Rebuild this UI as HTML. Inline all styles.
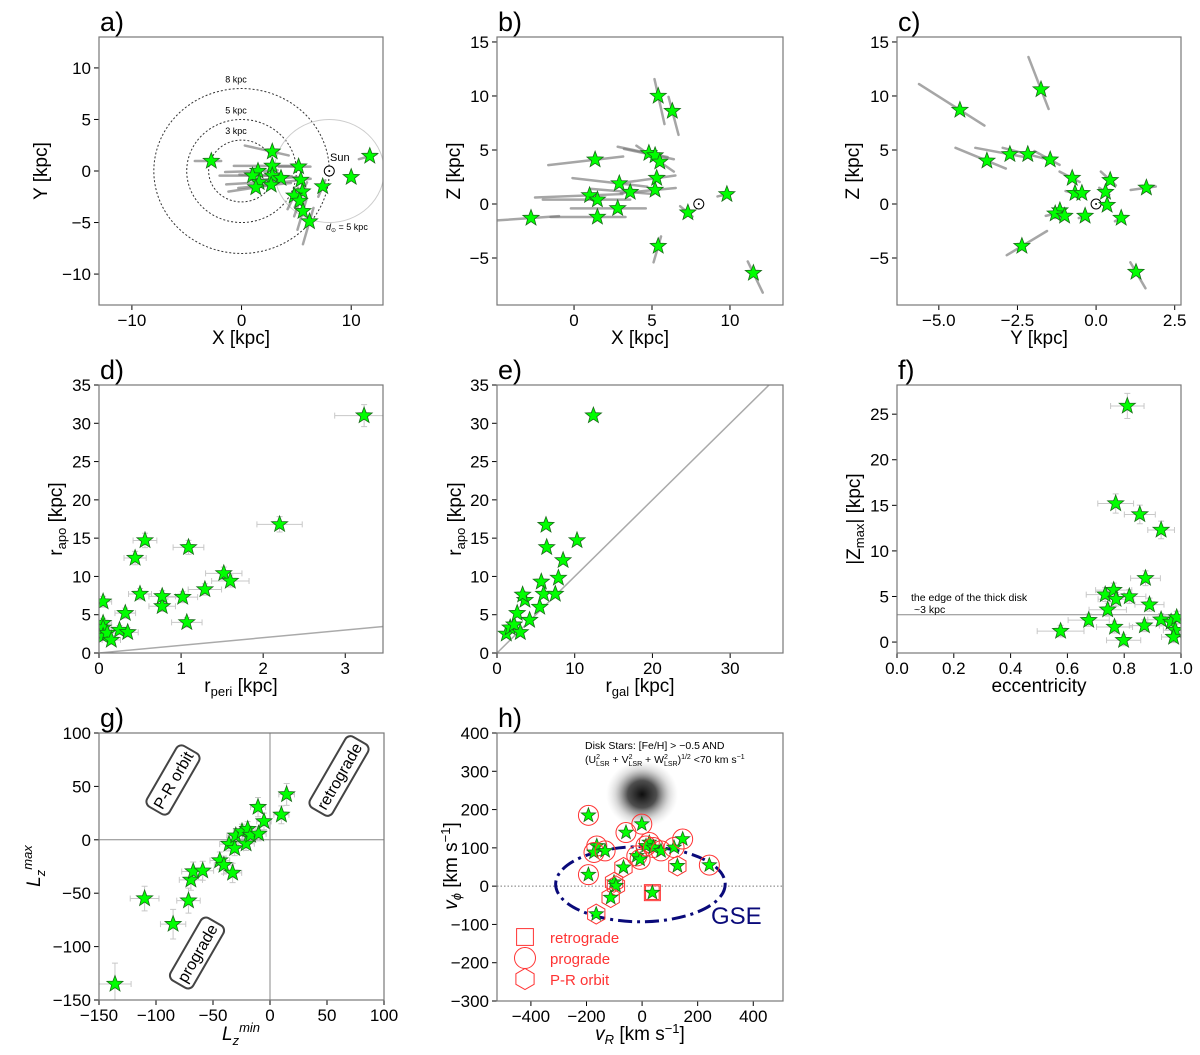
<!DOCTYPE html>
<html><head><meta charset="utf-8"><style>
html,body{margin:0;padding:0;background:#fff}
svg{display:block;font-family:"Liberation Sans","DejaVu Sans",sans-serif}
</style></head><body>
<svg id="fig" width="1200" height="1055" viewBox="0 0 1200 1055" xmlns="http://www.w3.org/2000/svg">
<defs>
<radialGradient id="blob" cx="50%" cy="50%" r="50%">
<stop offset="0" stop-color="#000" stop-opacity="0.95"/>
<stop offset="0.4" stop-color="#222" stop-opacity="0.8"/>
<stop offset="0.75" stop-color="#888" stop-opacity="0.3"/>
<stop offset="1" stop-color="#bbb" stop-opacity="0"/>
</radialGradient>
</defs>
</svg>
<script>
// ---------- data ----------
const aX=[-2.76,2.8,2.8,1.5,1.0,2.8,3.6,1.6,1.3,2.7,5.2,5.4,7.4,5.55,4.8,5.3,5.6,6.2,10,11.7];
const aY=[0.97,1.87,0.5,0,-0.45,-0.45,-0.7,-1.1,-1.6,-1.35,0.42,-0.87,-1.5,-2,-2.4,-2.9,-3.9,-4.9,-0.6,1.45];
const aTx=[1.5,2.5,3.5,3,3,3,2.5,3,2.5,3,1.8,1.5,0.4,0.7,0.6,0.5,0.5,0.6,0,1];
const aTy=[0,-0.6,0,0.1,0,-0.1,0.2,0.2,0.4,0.3,0,0.2,1.0,1.5,1.3,1.5,1.8,2.2,0,0.3];
const bX=[-2.76,1.35,2.9,1.0,1.5,1.5,2.8,3.6,4.8,5.2,5.5,5.3,5.2,5.4,6.3,7.3,9.8,5.4,11.5];
const bY=[-1.3,4.1,1.9,0.8,0.4,-1.2,-0.4,1.1,4.7,4.5,3.9,2.4,1.3,10,8.6,-0.8,0.9,-3.9,-6.4];
const bTx=[3,3,3,3.5,3.5,3,3,2.5,2,2,1.5,2,2.2,-0.4,-0.4,0.5,0.6,0.3,-0.6];
const bTy=[0.3,0.5,-0.5,0.2,0,0,0,-0.3,-0.6,-0.6,-1.5,0.4,0.3,2.6,2.2,-0.6,0.2,1.5,1.8];
const cX=[-4.33,-1.75,-3.47,-2.74,-2.17,-1.46,-0.76,-0.67,-0.45,-1.15,-1.3,-1.0,-0.35,0.35,0.45,0.3,0.8,1.6,-2.36,1.27];
const cY=[8.7,10.6,4,4.6,4.6,4.1,2.4,1.0,1.0,-0.6,-0.9,-1.1,-1.1,-0.1,2.2,1.1,-1.3,1.5,-3.9,-6.3];
const cTx=[1.3,0.4,1.0,1.1,0.8,0.5,0.4,0.3,0.2,0.3,0.3,0.3,0.2,0.1,0.3,0.2,0.2,0.5,-0.8,-0.3];
const cTy=[-2.4,-3.0,-1.2,-0.6,-0.6,-0.8,-0.6,-0.2,-0.2,0.2,0.2,0.2,0.2,0,-0.8,-0.4,0.3,0.2,-1.4,1.5];
const dX=[0.05,0.05,0.05,0.05,0.1,0.15,0.25,0.32,0.35,0.44,0.56,0.5,0.77,0.77,1.02,1.09,1.07,1.29,1.52,1.6,2.2,3.23];
const dY=[6.7,3.9,3.3,2.2,2.6,1.7,3,5.2,2.7,12.4,14.7,7.7,6.1,7.4,7.3,13.8,4,8.3,10.4,9.4,16.8,31];
const eX=[1.2,1.7,2.2,2.6,3,3.6,3.3,4.2,5.7,5.5,6,6.3,6.4,7.5,7.9,8.5,10.3,12.4];
const eY=[2.5,3.3,3.7,5.2,2.7,6.9,7.6,4.3,9.3,6,7.7,16.7,13.8,7.7,9.8,12.1,14.7,31];
const fX=[0.811,0.77,0.855,0.93,0.875,0.733,0.763,0.771,0.818,0.889,0.742,0.675,0.576,0.766,0.798,0.871,0.93,0.965,0.985,0.98,0.974];
const fY=[25.9,15.2,14.0,12.3,7.0,5.2,5.7,4.7,5.0,4.1,3.55,2.4,1.2,1.65,0.2,1.8,2.45,2.2,2.7,1.3,0.55];
const gX=[-136,-110,-85,-71.5,-69.4,-67.4,-59,-44,-40.4,-32.8,-36,-31,-30,-24.6,-21,-19.6,-17,-10,-10.5,-5.3,10,14.6];
const gY=[-135,-55,-79,-57,-37.5,-29.7,-29,-19.4,-23.7,-31,-4,-8,3.8,7.8,-3.7,10,4.4,5.6,30.6,17.2,23.4,42.5];
const hX=[-193,-58,-1,-163,-173,-133,-19,-7,26,14,41,68,115,146,-67,127,242,-193,-101,-94,-113,37,-165];
const hY=[185,140,162,105,88,92,79,70,114,105,101,92,101,123,49,53,55,30,10,1,-30,-17,-73];
const hType=["c","c","c","c","c","c","c","c","c","c","c","c","c","c","h","h","c","c","h","h","h","s","h"];
const ticksA_x=[-10,0,10], ticksA_y=[-10,-5,0,5,10];
const ticksB_x=[0,5,10], ticksBC_y=[-5,0,5,10,15];
const ticksC_x=[-5,-2.5,0,2.5], ticksC_lab=["−5.0","−2.5","0.0","2.5"];
const ticksD_x=[0,1,2,3], ticksDE_y=[0,5,10,15,20,25,30,35];
const ticksE_x=[0,10,20,30];
const ticksF_x=[0,0.2,0.4,0.6,0.8,1.0], ticksF_lab=["0.0","0.2","0.4","0.6","0.8","1.0"], ticksF_y=[0,5,10,15,20,25];
const ticksG=[-150,-100,-50,0,50,100];
const ticksH_x=[-400,-200,0,200,400], ticksH_y=[-300,-200,-100,0,100,200,300,400];

// ---------- helpers ----------
const NS="http://www.w3.org/2000/svg";
const fig=document.getElementById('fig');
function mk(tag,attrs,parent,txt){const e=document.createElementNS(NS,tag);for(const k in attrs)e.setAttribute(k,attrs[k]);if(txt!==undefined)e.textContent=txt;(parent||fig).appendChild(e);return e;}
function lab(v){return (v<0?"−":"")+Math.abs(v);}
function panel(o){
  const g=mk('g',{});
  
  
  const sx=v=>o.L+(v-o.x0)/(o.x1-o.x0)*(o.R-o.L);
  const sy=v=>o.B-(v-o.y0)/(o.y1-o.y0)*(o.B-o.T);
  const clip='clip-'+o.name;
  const cp=mk('clipPath',{id:clip},g);mk('rect',{x:o.L,y:o.T,width:o.R-o.L,height:o.B-o.T},cp);
  const plot=mk('g',{'clip-path':'url(#'+clip+')'},g);
  
  
  o.xt.forEach((v,i)=>{const x=sx(v);mk('line',{x1:x,x2:x,y1:o.B,y2:o.B+5,stroke:'#000','stroke-width':1},g);
    const t=mk('text',{x:x,y:o.B+21,'font-size':17,'text-anchor':'middle'},g,o.xl?o.xl[i]:lab(v));
    });
  o.yt.forEach((v,i)=>{const y=sy(v);mk('line',{x1:o.L-5,x2:o.L,y1:y,y2:y,stroke:'#000','stroke-width':1},g);
    const t=mk('text',{x:o.L-8,y:y+6,'font-size':17,'text-anchor':'end'},g,lab(v));
    });
  const letter=mk('text',{x:o.L+1,y:o.T-6,'font-size':27},g,o.letter);
  
  return {g,plot,sx,sy,box:()=>{const r=mk('rect',{x:o.L,y:o.T,width:o.R-o.L,height:o.B-o.T,fill:'none',stroke:'#777','stroke-width':1.2},g);}};
}
function star(p,x,y,r){r=r||8.5;let pts=[];for(let i=0;i<10;i++){const a=-Math.PI/2+i*Math.PI/5;const rr=i%2?r*0.42:r;pts.push((x+rr*Math.cos(a)).toFixed(1)+','+(y+rr*Math.sin(a)).toFixed(1));}
  const s=mk('polygon',{points:pts.join(' '),fill:'#00ff00',stroke:'#1a6b1a','stroke-width':0.8},p);
  return s;}
function axlabel(x,y,txt,rot,size){const t=mk('text',{x:x,y:y,'font-size':size||19,'text-anchor':'middle',transform:rot?`rotate(-90 ${x} ${y})`:''},fig);t.innerHTML=txt;
  return t;}
function trails(P,X,Y,TX,TY){X.forEach((v,i)=>{const l=mk('line',{x1:P.sx(v-TX[i]),y1:P.sy(Y[i]-TY[i]),x2:P.sx(v+TX[i]*0.6),y2:P.sy(Y[i]+TY[i]*0.6),stroke:'#777','stroke-width':2.5,'stroke-opacity':0.65,'stroke-linecap':'round'},P.plot);
  });}
function errs(P,X,Y,ex,ey){X.forEach((v,i)=>{const x=P.sx(v),y=P.sy(Y[i]);const ax=Math.abs(P.sx(v+ex(i))-x),ay=Math.abs(P.sy(Y[i]+ey(i))-y);
  const e=mk('path',{d:`M${x-ax},${y}H${x+ax}M${x-ax},${y-3}v6M${x+ax},${y-3}v6M${x},${y-ay}V${y+ay}M${x-3},${y-ay}h6M${x-3},${y+ay}h6`,stroke:'#c8c8c8','stroke-width':1,fill:'none'},P.plot);
  });}
function sun(P,x,y){const c=mk('circle',{cx:P.sx(x),cy:P.sy(y),r:5,fill:'#fff',stroke:'#000','stroke-width':1},P.plot);
  mk('circle',{cx:P.sx(x),cy:P.sy(y),r:1,fill:'#000'},P.plot);}

// ---------- panel a ----------
const A=panel({name:'panel-a',letter:'a)',L:99,R:383,T:37,B:305,x0:-13,x1:12.9,y0:-13,y1:13,xt:ticksA_x,yt:ticksA_y});
[3,5,8].forEach(r=>{const e=mk('ellipse',{cx:A.sx(0),cy:A.sy(0),rx:A.sx(r)-A.sx(0),ry:A.sy(0)-A.sy(r),fill:'none',stroke:'#333','stroke-width':1,'stroke-dasharray':'2,2'},A.plot);});
mk('ellipse',{cx:A.sx(8),cy:A.sy(0),rx:A.sx(5)-A.sx(0),ry:A.sy(0)-A.sy(5),fill:'none',stroke:'#ccc','stroke-width':1},A.plot);
trails(A,aX,aY,aTx,aTy);sun(A,8,0);
aX.forEach((v,i)=>star(A.plot,A.sx(v),A.sy(aY[i])));
[['8 kpc',8.6],['5 kpc',5.6],['3 kpc',3.6]].forEach(d=>{const t=mk('text',{x:A.sx(-0.5),y:A.sy(d[1]),'font-size':9,'text-anchor':'middle'},A.g,d[0]);});
mk('text',{x:330,y:161,'font-size':11},A.g,'Sun');
mk('text',{x:326,y:230,'font-size':9},A.g).innerHTML='<tspan font-style="italic">d</tspan><tspan font-size="6" dy="2">⊙</tspan><tspan dy="-2"> = 5 kpc</tspan>';
A.box();axlabel(241,344,'X [kpc]');axlabel(47,171,'Y [kpc]',true);

// ---------- panel b ----------
const B=panel({name:'panel-b',letter:'b)',L:497,R:783,T:37,B:305,x0:-4.94,x1:13.4,y0:-9.35,y1:15.46,xt:ticksB_x,yt:ticksBC_y});
trails(B,bX,bY,bTx,bTy);sun(B,8,0);
bX.forEach((v,i)=>star(B.plot,B.sx(v),B.sy(bY[i])));
B.box();axlabel(640,344,'X [kpc]');axlabel(460,171,'Z [kpc]',true);

// ---------- panel c ----------
const C=panel({name:'panel-c',letter:'c)',L:897,R:1181,T:37,B:305,x0:-6.33,x1:2.7,y0:-9.35,y1:15.46,xt:ticksC_x,xl:ticksC_lab,yt:ticksBC_y});
trails(C,cX,cY,cTx,cTy);sun(C,0,0);
cX.forEach((v,i)=>star(C.plot,C.sx(v),C.sy(cY[i])));
C.box();axlabel(1039,344,'Y [kpc]');axlabel(859,171,'Z [kpc]',true);

// ---------- panel d ----------
const D=panel({name:'panel-d',letter:'d)',L:99,R:383,T:385,B:653,x0:0,x1:3.46,y0:0,y1:35,xt:ticksD_x,yt:ticksDE_y});
mk('line',{x1:D.sx(0),y1:D.sy(0),x2:D.sx(3.46),y2:D.sy(3.46),stroke:'#aaa','stroke-width':1.5},D.plot);
errs(D,dX,dY,i=>0.1+dX[i]*0.08,i=>0.5+dY[i]*0.03);
dX.forEach((v,i)=>star(D.plot,D.sx(v),D.sy(dY[i])));
D.box();axlabel(241,692,'r<tspan font-size="13" dy="4">peri</tspan><tspan dy="-4"> [kpc]</tspan>');axlabel(62,519,'r<tspan font-size="13" dy="4">apo</tspan><tspan dy="-4"> [kpc]</tspan>',true);

// ---------- panel e ----------
const E=panel({name:'panel-e',letter:'e)',L:497,R:783,T:385,B:653,x0:0,x1:36.8,y0:0,y1:35,xt:ticksE_x,yt:ticksDE_y});
mk('line',{x1:E.sx(0),y1:E.sy(0),x2:E.sx(36.8),y2:E.sy(36.8),stroke:'#aaa','stroke-width':1.5},E.plot);
eX.forEach((v,i)=>star(E.plot,E.sx(v),E.sy(eY[i])));
E.box();axlabel(640,692,'r<tspan font-size="13" dy="4">gal</tspan><tspan dy="-4"> [kpc]</tspan>');axlabel(461,519,'r<tspan font-size="13" dy="4">apo</tspan><tspan dy="-4"> [kpc]</tspan>',true);

// ---------- panel f ----------
const F=panel({name:'panel-f',letter:'f)',L:897,R:1181,T:385,B:653,x0:0,x1:1.0,y0:-1.2,y1:28.2,xt:ticksF_x,xl:ticksF_lab,yt:ticksF_y});
mk('line',{x1:F.sx(0),y1:F.sy(3),x2:F.sx(1),y2:F.sy(3),stroke:'#888','stroke-width':1},F.plot);
errs(F,fX,fY,i=>0.04+(1-fX[i])*0.1,i=>0.6+fY[i]*0.03);
fX.forEach((v,i)=>star(F.plot,F.sx(v),F.sy(fY[i])));
mk('text',{x:911,y:601,'font-size':10.5},F.g,'the edge of the thick disk');
mk('text',{x:914,y:613,'font-size':10.5},F.g,'~3 kpc');
F.box();axlabel(1039,692,'eccentricity');axlabel(860,519,'|Z<tspan font-size="13" dy="4">max</tspan><tspan dy="-4">| [kpc]</tspan>',true);

// ---------- panel g ----------
const G=panel({name:'panel-g',letter:'g)',L:99,R:384,T:733,B:1000,x0:-150,x1:100,y0:-150,y1:100,xt:ticksG,yt:ticksG});
mk('line',{x1:G.sx(0),y1:733,x2:G.sx(0),y2:1000,stroke:'#888','stroke-width':1},G.plot);
mk('line',{x1:99,y1:G.sy(0),x2:384,y2:G.sy(0),stroke:'#888','stroke-width':1},G.plot);
errs(G,gX,gY,i=>6+Math.abs(gX[i])*0.06,i=>6+Math.abs(gY[i])*0.1);
gX.forEach((v,i)=>star(G.plot,G.sx(v),G.sy(gY[i])));
[['P-R orbit',173,780,70],['retrograde',339,776,82],['prograde',197,953,72]].forEach(b=>{
  const gg=mk('g',{transform:`rotate(-60 ${b[1]} ${b[2]})`},G.g);
  mk('rect',{x:b[1]-b[3]/2,y:b[2]-13,width:b[3],height:26,rx:6,fill:'#fff',stroke:'#444','stroke-width':2},gg);
  mk('text',{x:b[1],y:b[2]+6,'font-size':16,'text-anchor':'middle'},gg,b[0]);});
G.box();axlabel(241,1040,'<tspan font-style="italic">L</tspan><tspan font-size="13" font-style="italic" dy="5">z</tspan><tspan font-size="13" font-style="italic" dy="-13">min</tspan>');
axlabel(40,866,'<tspan font-style="italic">L</tspan><tspan font-size="13" font-style="italic" dy="5">z</tspan><tspan font-size="13" font-style="italic" dy="-13">max</tspan>',true);

// ---------- panel h ----------
const H=panel({name:'panel-h',letter:'h)',L:497,R:783,T:733,B:1001,x0:-522,x1:507,y0:-300,y1:400,xt:ticksH_x,yt:ticksH_y});
const bl=mk('ellipse',{cx:H.sx(0),cy:H.sy(240),rx:36,ry:34,fill:'url(#blob)'},H.plot);
mk('line',{x1:497,y1:H.sy(0),x2:783,y2:H.sy(0),stroke:'#777','stroke-width':1,'stroke-dasharray':'1.5,2'},H.plot);
const gse=mk('ellipse',{cx:H.sx(-6),cy:H.sy(5),rx:H.sx(305)-H.sx(0),ry:H.sy(0)-H.sy(98),fill:'none',stroke:'#0a0a7a','stroke-width':3,'stroke-dasharray':'14,5,3,5'},H.plot);
function hmark(p,x,y,t,r){let e;if(t==='c')e=mk('circle',{cx:x,cy:y,r:r,fill:'none',stroke:'#f33','stroke-width':1},p);
  else if(t==='s')e=mk('rect',{x:x-r*0.8,y:y-r*0.8,width:r*1.6,height:r*1.6,fill:'none',stroke:'#f33','stroke-width':1},p);
  else{let pts=[];for(let i=0;i<6;i++){const a=Math.PI/6+i*Math.PI/3;pts.push((x+r*Math.cos(a)).toFixed(1)+','+(y+r*Math.sin(a)).toFixed(1));}e=mk('polygon',{points:pts.join(' '),fill:'none',stroke:'#f33','stroke-width':1},p);}
  return e;}
hX.forEach((v,i)=>{hmark(H.plot,H.sx(v),H.sy(hY[i]),hType[i],10);if(hType[i]==='s')hmark(H.plot,H.sx(v),H.sy(hY[i]),'s',8.5);star(H.plot,H.sx(v),H.sy(hY[i]),7.5);});
mk('text',{x:585,y:749,'font-size':10.5},H.g,'Disk Stars: [Fe/H] > −0.5 AND');
mk('text',{x:585,y:763,'font-size':10.5},H.g).innerHTML='(U<tspan font-size="7" dy="-4">2</tspan><tspan font-size="7" dx="-4" dy="7">LSR</tspan><tspan dy="-3"> + V</tspan><tspan font-size="7" dy="-4">2</tspan><tspan font-size="7" dx="-4" dy="7">LSR</tspan><tspan dy="-3"> + W</tspan><tspan font-size="7" dy="-4">2</tspan><tspan font-size="7" dx="-4" dy="7">LSR</tspan><tspan dy="-3">)</tspan><tspan font-size="7" dy="-4">1/2</tspan><tspan dy="4">  &lt;70 km s</tspan><tspan font-size="7" dy="-4">−1</tspan>';
const gt=mk('text',{x:711,y:924,'font-size':24,fill:'#0a0a7a'},H.g,'GSE');
[['s','retrograde',937],['c','prograde',958],['h','P-R orbit',979]].forEach(l=>{
  const lg=mk('g',{},H.g);
  hmark(lg,525,l[2],l[0],10.5);mk('text',{x:550,y:l[2]+6,'font-size':15,fill:'#f33'},lg,l[1]);});
H.box();axlabel(640,1040,'<tspan font-style="italic">v</tspan><tspan font-size="13" font-style="italic" dy="4">R</tspan><tspan dy="-4"> [km s</tspan><tspan font-size="13" dy="-7">−1</tspan><tspan dy="7">]</tspan>');
axlabel(457,866,'<tspan font-style="italic">v</tspan><tspan font-size="13" font-style="italic" dy="4">ϕ</tspan><tspan dy="-4"> [km s</tspan><tspan font-size="13" dy="-7">−1</tspan><tspan dy="7">]</tspan>',true);
</script>
</body></html>
